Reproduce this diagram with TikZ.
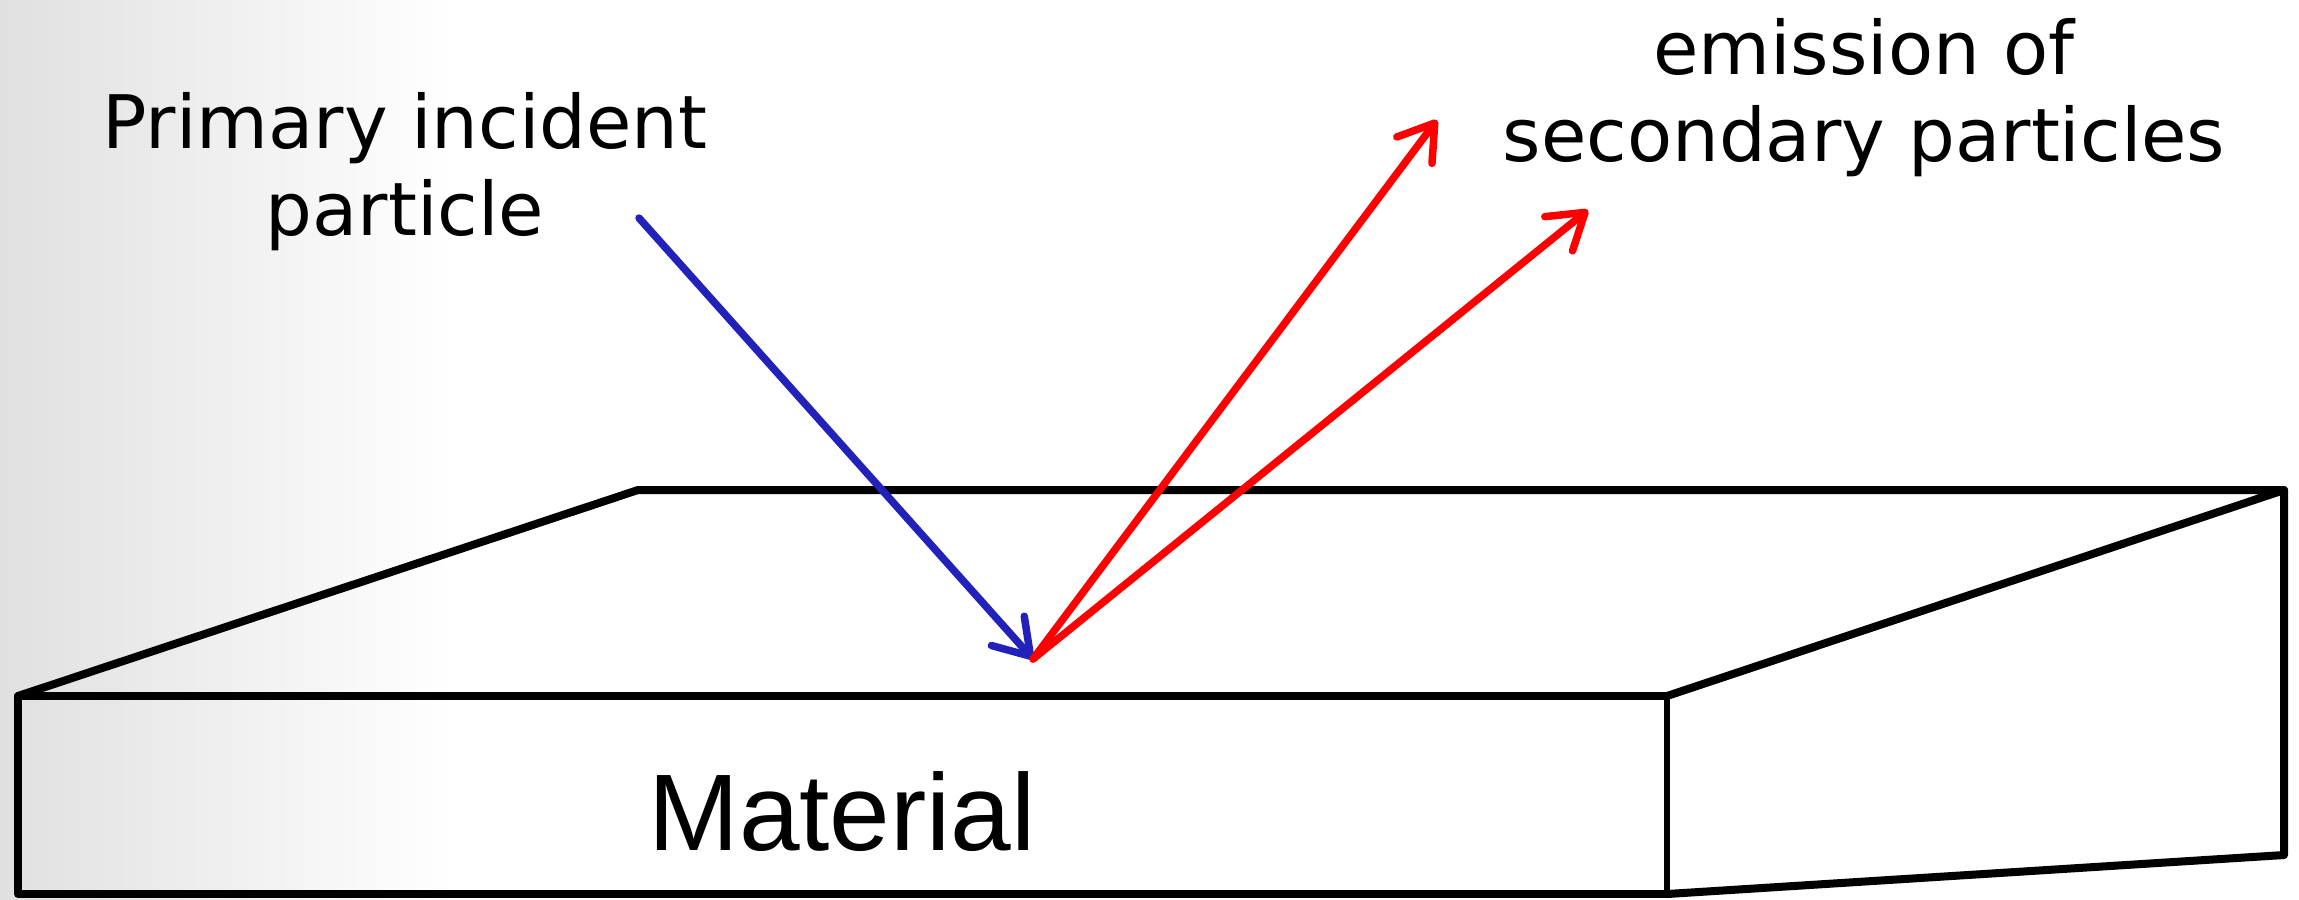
\documentclass[tikz,border=0pt]{standalone}
\usepackage{fontspec}
\setmainfont{DejaVu Sans}
\newfontfamily\arialfont{Liberation Sans}
\usetikzlibrary{arrows.meta}
\definecolor{incident}{RGB}{34,34,187}
\definecolor{bggray}{RGB}{224,224,224}
\tikzset{
    boxline/.style={line width=0.8mm, line cap=round, line join=round},
    beam/.style={line width=0.75mm, line cap=round, -{Straight Barb[length=3.4mm, width=4.4mm, round]}},
    caption/.style={align=center, font=\fontsize{21}{24.7}\selectfont, inner sep=0pt}
}

\begin{document}
\begin{tikzpicture}[x=0.1mm, y=-0.1mm]
    \useasboundingbox (0,0) rectangle (2299,899);
    % light shading on the left edge
    \shade[left color=bggray, right color=white] (0,0) rectangle (450,899);

    % corners of the block
    \coordinate (ftl) at (18,696); \coordinate (ftr) at (1667,696);
    \coordinate (fbl) at (18,894); \coordinate (fbr) at (1667,894);
    \coordinate (btl) at (638,490); \coordinate (btr) at (2284,490);
    \coordinate (bbr) at (2284,855);

    \draw[boxline] (fbr) -- (fbl) -- (ftl) -- (ftr);
    \draw[boxline] (ftl) -- (btl) -- (btr) -- (ftr);
    \draw[boxline] (btr) -- (bbr) -- (fbr);
    \draw[boxline, line width=0.6mm] (ftr) -- (fbr);

    \node[font=\arialfont\fontsize{31}{36}\selectfont, anchor=base, inner sep=0pt] (mat) at (842,850) {Material};

    % incident and emitted particles
    \coordinate (src) at (639,218);
    \coordinate (hit) at (1033,659);
    \coordinate (out1) at (1437,120);
    \coordinate (out2) at (1588,210);

    \draw[beam, incident] (src) -- (hit);
    \draw[beam, red] (hit) -- (out1);
    \draw[beam, red] (hit) -- (out2);

    \node[caption, anchor=base] (prim) at (405,235) {Primary incident\\particle};
    \node[caption, anchor=base] (emis) at (1864,161) {emission of\\secondary particles};
\end{tikzpicture}
\end{document}
